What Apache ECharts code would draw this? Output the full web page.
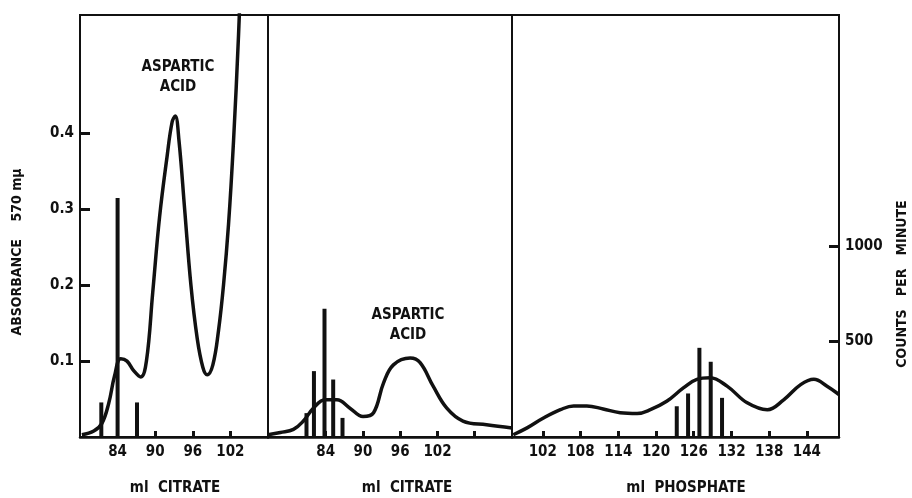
<!DOCTYPE html>
<html>
<head>
<meta charset="utf-8">
<script src="https://cdn.jsdelivr.net/npm/echarts@6/dist/echarts.min.js"></script>
<style>
  html, body { margin: 0; padding: 0; background: #fff; }
  #chart { width: 912px; height: 498px; }
</style>
</head>
<body>
<div id="chart"></div>
<script>
// absorbance curves, [ml, absorbance]
const citrateCurveA = [
    [78.3, 0.003], [80.2, 0.008], [81.5, 0.018], [82.6, 0.045], [83.5, 0.08],
    [84.5, 0.103], [85.5, 0.1], [86.6, 0.087], [87.7, 0.079], [88.6, 0.1],
    [89.6, 0.19], [90.7, 0.29], [91.9, 0.37], [92.7, 0.415], [93.2, 0.423],
    [93.8, 0.39], [94.7, 0.3], [95.7, 0.2], [96.7, 0.13], [97.6, 0.092],
    [98.3, 0.082], [99.2, 0.095], [100.1, 0.14], [100.9, 0.2], [101.7, 0.28],
    [102.5, 0.39], [103.3, 0.53], [103.6, 0.6]
];
const citrateCurveB = [
    [74.7, 0.003], [76.7, 0.006], [78.8, 0.01], [80.4, 0.021], [82.0, 0.038],
    [83.9, 0.049], [85.8, 0.049], [87.9, 0.038], [90.0, 0.027], [91.7, 0.032],
    [93.3, 0.071], [94.9, 0.095], [97.6, 0.104], [99.2, 0.098], [101.3, 0.067],
    [103.5, 0.038], [106.1, 0.021], [109.9, 0.016], [114.0, 0.012]
];
const phosphateCurve = [
    [97.3, 0.003], [99.5, 0.012], [102.1, 0.025], [104.8, 0.036], [106.9, 0.041],
    [109.0, 0.041], [111.6, 0.037], [114.3, 0.032], [117.0, 0.031], [119.1, 0.036],
    [121.7, 0.047], [124.4, 0.065], [126.5, 0.076], [128.6, 0.078], [131.3, 0.067],
    [134.5, 0.045], [137.7, 0.036], [140.3, 0.049], [143.0, 0.069], [145.1, 0.076],
    [147.2, 0.067], [149.1, 0.056]
];

// radioactivity, [ml, counts per minute]
const citrateBarsA = [[81.4, 181], [84, 1252], [87.1, 181]];
const citrateBarsB = [[80.9, 125], [82.1, 345], [83.8, 671], [85.2, 301], [86.7, 100]];
const phosphateBars = [[123.3, 161], [125.1, 228], [126.9, 467], [128.7, 394], [130.5, 205]];

// tick labels
const citrateTicksA = [84, 90, 96, 102];
const citrateTicksB = [84, 90, 96, 102, 108];
const citrateLabelsB = [84, 90, 96, 102];
const phosphateTicks = [102, 108, 114, 120, 126, 132, 138, 144];
const absorbanceTicks = [0.1, 0.2, 0.3, 0.4];
const countTicks = [500, 1000];

const ink = "#111";
const font = "'DejaVu Sans Condensed', 'Liberation Sans Narrow', sans-serif";

const chart = echarts.init(document.getElementById("chart"));

const grids = [
    { left: 80, width: 188, top: 15, bottom: 61 },
    { left: 268, width: 244, top: 15, bottom: 61 },
    { left: 512, width: 327, top: 15, bottom: 61 },
].map(g => Object.assign(g, { show: true, borderColor: ink, borderWidth: 2, backgroundColor: "transparent" }));

function xAxis(gridIndex, min, max, ticks, labels) {
    return {
        type: "value", gridIndex, min, max,
        splitLine: { show: false },
        axisLine: { lineStyle: { color: ink, width: 2.5 } },
        axisTick: { inside: true, length: 6, customValues: ticks, lineStyle: { color: ink, width: 3 } },
        axisLabel: { customValues: labels, margin: 8, color: ink, fontSize: 15, fontWeight: "bold", fontFamily: font },
    };
}

function yAxis(gridIndex, max, position, show, ticks) {
    return {
        type: "value", gridIndex, min: 0, max, position,
        show,
        splitLine: { show: false },
        axisLine: { show: true, lineStyle: { color: ink, width: 2 } },
        axisTick: { show: true, inside: true, length: 10, customValues: ticks, lineStyle: { color: ink, width: 3 } },
        axisLabel: {
            customValues: ticks, margin: 6, color: ink, fontSize: 15, fontWeight: "bold", fontFamily: font,
            formatter: v => String(v),
        },
    };
}

const absMax = 0.556;
const cpmMax = 2210;

function curve(data, xi, yi) {
    return {
        type: "line", data, xAxisIndex: xi, yAxisIndex: yi,
        smooth: 0.4, symbol: "none", clip: true,
        lineStyle: { color: ink, width: 3.5 },
        z: 3,
    };
}

function bars(data, xi, yi) {
    return {
        type: "bar", data, xAxisIndex: xi, yAxisIndex: yi,
        barWidth: 4, itemStyle: { color: ink },
        z: 4,
    };
}

function label(text, x, y, size, rotation) {
    return {
        type: "text", x, y, rotation: rotation || 0,
        style: {
            text, fill: ink, font: "bold " + size + "px " + font,
            align: "center", verticalAlign: "middle", lineHeight: 20,
        },
    };
}

chart.setOption({
    animation: false,
    grid: grids,
    xAxis: [
        xAxis(0, 78, 108, citrateTicksA, citrateTicksA),
        xAxis(1, 74.7, 114, citrateTicksB, citrateLabelsB),
        xAxis(2, 97.1, 149.1, phosphateTicks, phosphateTicks),
    ],
    yAxis: [
        yAxis(0, absMax, "left", true, absorbanceTicks),
        yAxis(0, cpmMax, "right", false, countTicks),
        yAxis(1, absMax, "left", false, absorbanceTicks),
        yAxis(1, cpmMax, "right", false, countTicks),
        yAxis(2, absMax, "left", false, absorbanceTicks),
        yAxis(2, cpmMax, "right", true, countTicks),
    ],
    series: [
        curve(citrateCurveA, 0, 0),
        bars(citrateBarsA, 0, 1),
        curve(citrateCurveB, 1, 2),
        bars(citrateBarsB, 1, 3),
        curve(phosphateCurve, 2, 4),
        bars(phosphateBars, 2, 5),
    ],
    graphic: [
        label("ASPARTIC\nACID", 178, 77, 15),
        label("ASPARTIC\nACID", 408, 325, 15),
        label("ml  CITRATE", 175, 488, 15),
        label("ml  CITRATE", 407, 488, 15),
        label("ml  PHOSPHATE", 686, 488, 15),
        label("ABSORBANCE    570 mμ", 17, 252, 14, Math.PI / 2),
        label("COUNTS   PER   MINUTE", 902, 284, 14, Math.PI / 2),
    ],
});
</script>
</body>
</html>
